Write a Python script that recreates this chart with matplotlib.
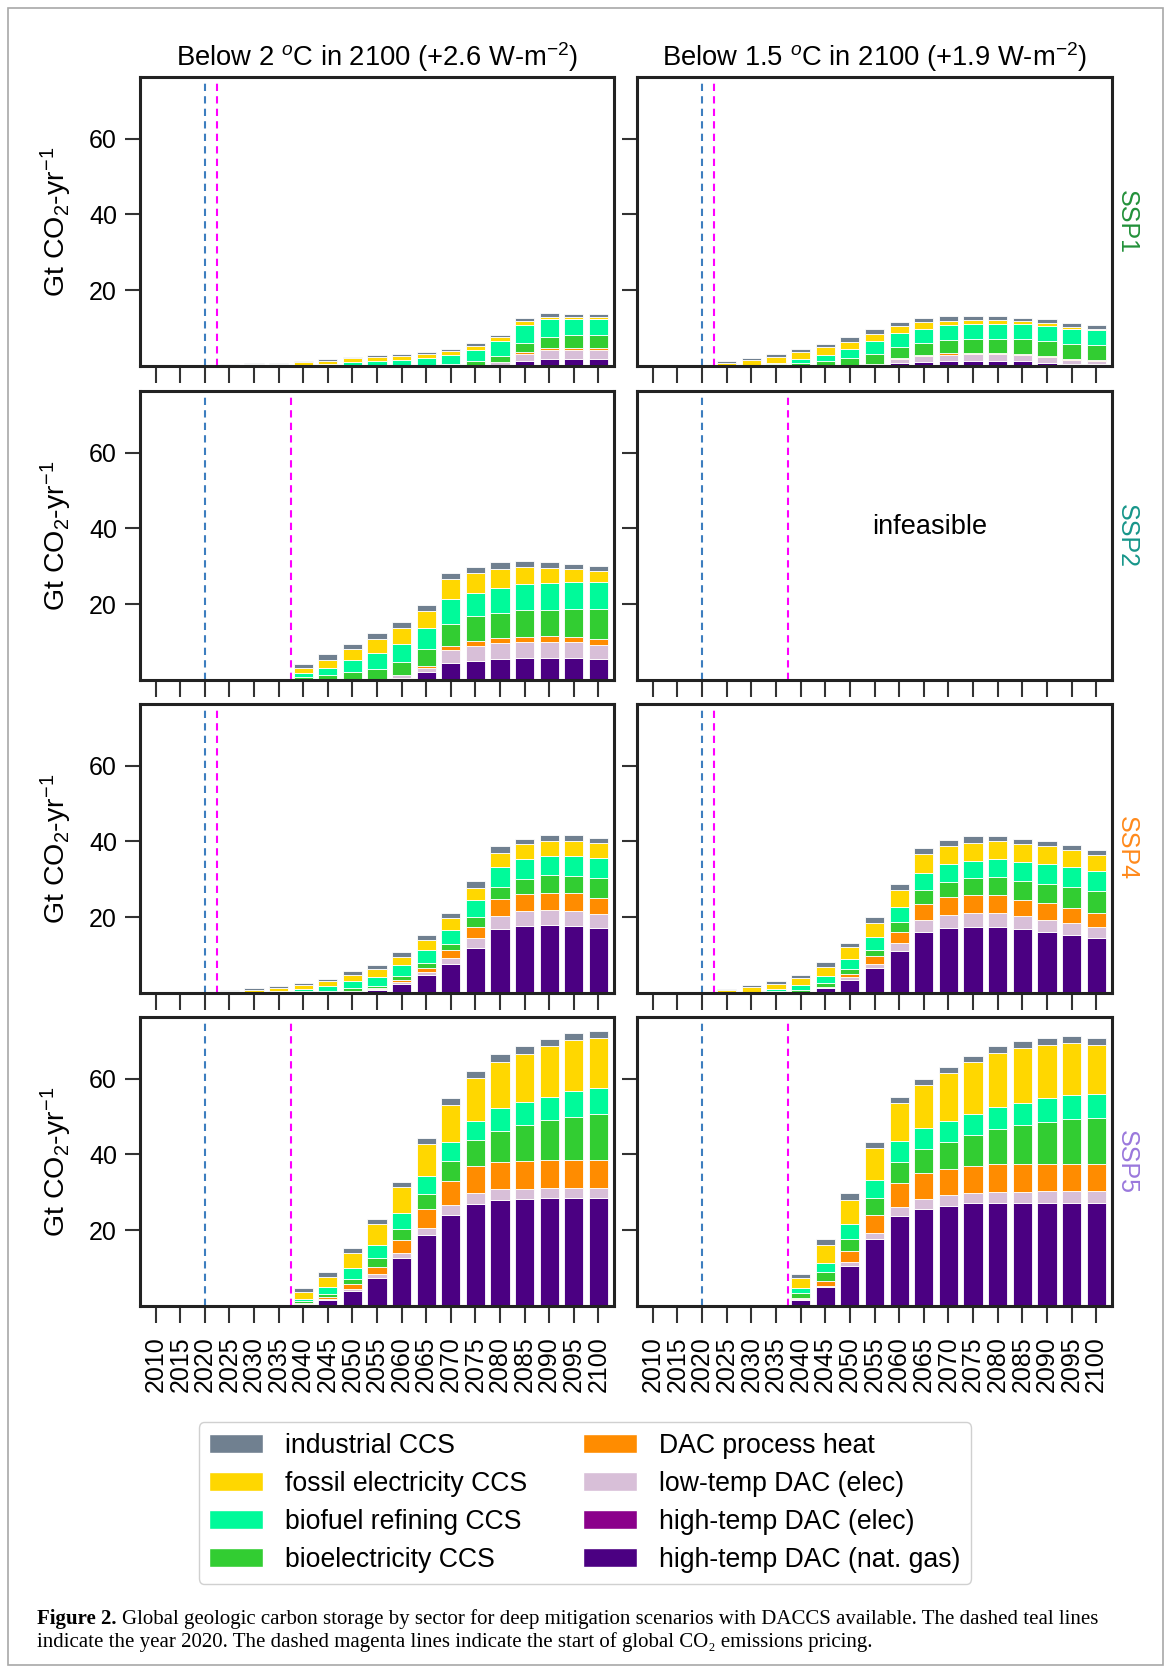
import numpy as np
import matplotlib.pyplot as plt
from matplotlib.patches import Rectangle, Patch

plt.rcParams['font.family'] = ['Liberation Sans', 'DejaVu Sans']
plt.rcParams['mathtext.fontset'] = 'custom'
plt.rcParams['mathtext.rm'] = 'Liberation Sans'
plt.rcParams['mathtext.it'] = 'Liberation Sans:italic'
plt.rcParams['mathtext.bf'] = 'Liberation Sans:bold'

years = [2010, 2015, 2020, 2025, 2030, 2035, 2040, 2045, 2050, 2055,
         2060, 2065, 2070, 2075, 2080, 2085, 2090, 2095, 2100]

sectors = ['high-temp DAC (nat. gas)', 'high-temp DAC (elec)', 'low-temp DAC (elec)',
           'DAC process heat', 'bioelectricity CCS', 'biofuel refining CCS',
           'fossil electricity CCS', 'industrial CCS']
colors = ['indigo', 'darkmagenta', 'thistle', 'darkorange', 'limegreen',
          'mediumspringgreen', 'gold', 'slategray']

# high-temp DAC (elec) is never visible in any scenario
ht_elec = [0, 0, 0, 0, 0, 0, 0, 0, 0, 0, 0, 0, 0, 0, 0, 0, 0, 0, 0]

# SSP1, below 2 C (2.6 W/m2)
s1_26_ng = [0, 0, 0, 0, 0, 0, 0, 0, 0, 0, 0, 0, 0, 0.1, 0.3, 1.3, 1.85, 1.9, 1.9]
s1_26_lt = [0, 0, 0, 0, 0, 0, 0, 0, 0, 0, 0, 0, 0.1, 0.1, 0.7, 2.0, 2.4, 2.4, 2.4]
s1_26_ph = [0, 0, 0, 0, 0, 0, 0, 0, 0, 0, 0, 0, 0, 0, 0.1, 0.4, 0.4, 0.45, 0.5]
s1_26_be = [0, 0, 0, 0, 0, 0, 0, 0, 0.1, 0.1, 0.1, 0.15, 0.3, 1.2, 1.5, 2.4, 3.1, 3.4, 3.5]
s1_26_bf = [0, 0, 0, 0, 0.1, 0.15, 0.3, 0.6, 1.0, 1.3, 1.6, 2.0, 2.5, 2.9, 4.0, 4.7, 4.6, 4.2, 4.0]
s1_26_fe = [0, 0, 0, 0.2, 0.4, 0.5, 0.7, 0.8, 0.9, 0.95, 1.0, 1.1, 1.1, 1.1, 1.0, 1.0, 0.7, 0.6, 0.6]
s1_26_ind = [0, 0, 0, 0.2, 0.2, 0.25, 0.3, 0.4, 0.5, 0.5, 0.5, 0.5, 0.5, 0.6, 0.7, 1.0, 0.9, 0.9, 0.9]

# SSP1, below 1.5 C (1.9 W/m2)
s1_19_ng = [0, 0, 0, 0, 0, 0, 0, 0, 0, 0.2, 0.9, 1.05, 1.4, 1.4, 1.4, 1.2, 0.9, 0.6, 0.5]
s1_19_lt = [0, 0, 0, 0, 0, 0, 0, 0, 0, 0.3, 1.0, 1.6, 1.6, 1.7, 1.8, 1.6, 1.5, 1.0, 0.8]
s1_19_ph = [0, 0, 0, 0, 0, 0, 0, 0, 0, 0.1, 0.3, 0.35, 0.35, 0.3, 0.3, 0.3, 0.3, 0.2, 0.2]
s1_19_be = [0, 0, 0, 0, 0, 0.5, 0.9, 1.2, 2.0, 2.5, 2.7, 3.2, 3.5, 3.8, 3.7, 3.9, 4.0, 4.1, 4.0]
s1_19_bf = [0, 0, 0, 0, 0.1, 0.4, 0.9, 1.8, 2.55, 3.5, 3.7, 3.7, 3.9, 3.8, 4.0, 4.1, 3.9, 3.9, 3.9]
s1_19_fe = [0, 0, 0, 0.9, 1.5, 1.6, 1.8, 1.9, 1.85, 1.8, 1.9, 1.6, 1.2, 1.1, 0.9, 0.8, 0.8, 0.6, 0.5]
s1_19_ind = [0, 0, 0, 0.5, 0.6, 0.7, 0.8, 1.0, 1.2, 1.4, 1.1, 1.2, 1.2, 1.1, 1.1, 0.9, 1.0, 1.0, 0.9]

# SSP2, below 2 C
s2_26_ng = [0, 0, 0, 0, 0, 0, 0, 0, 0, 0.1, 0.6, 2.0, 4.4, 5.1, 5.6, 5.75, 5.9, 5.7, 5.5]
s2_26_lt = [0, 0, 0, 0, 0, 0, 0, 0, 0, 0, 0.6, 1.3, 3.5, 4.0, 4.1, 4.2, 4.2, 4.25, 3.8]
s2_26_ph = [0, 0, 0, 0, 0, 0, 0, 0, 0, 0, 0, 0.4, 1.2, 1.2, 1.3, 1.3, 1.4, 1.4, 1.5]
s2_26_be = [0, 0, 0, 0, 0, 0, 0.9, 1.3, 2.1, 2.9, 3.5, 4.5, 5.75, 6.5, 6.7, 7.2, 7.1, 7.5, 8.0]
s2_26_bf = [0, 0, 0, 0, 0, 0, 0.9, 2.0, 3.2, 4.2, 4.9, 5.4, 6.5, 6.2, 6.5, 6.8, 7.1, 7.1, 7.2]
s2_26_fe = [0, 0, 0, 0, 0, 0, 1.3, 2.1, 2.9, 3.5, 4.0, 4.6, 5.2, 5.2, 5.2, 4.6, 4.0, 3.45, 2.9]
s2_26_ind = [0, 0, 0, 0, 0, 0, 1.0, 1.4, 1.4, 1.6, 1.6, 1.5, 1.8, 1.6, 1.7, 1.6, 1.4, 1.2, 1.2]

# SSP4, below 2 C
s4_26_ng = [0, 0, 0, 0, 0, 0, 0, 0.1, 0.3, 0.9, 2.5, 4.75, 7.75, 11.9, 16.8, 17.7, 18.0, 17.7, 17.1]
s4_26_lt = [0, 0, 0, 0, 0, 0, 0, 0, 0.1, 0.2, 0.45, 0.8, 1.5, 2.5, 3.4, 3.9, 3.9, 3.9, 3.7]
s4_26_ph = [0, 0, 0, 0, 0, 0, 0, 0, 0.1, 0.15, 0.5, 1.15, 2.0, 3.1, 4.5, 4.6, 4.6, 4.75, 4.4]
s4_26_be = [0, 0, 0, 0, 0, 0.15, 0.4, 0.5, 0.8, 0.7, 1.05, 1.3, 1.75, 2.5, 3.3, 4.0, 4.6, 4.6, 5.1]
s4_26_bf = [0, 0, 0, 0, 0.1, 0.3, 0.7, 1.2, 1.75, 2.4, 2.9, 3.35, 3.6, 4.65, 5.3, 5.3, 5.1, 5.3, 5.3]
s4_26_fe = [0, 0, 0, 0.5, 0.8, 0.9, 1.0, 1.3, 1.7, 2.0, 2.2, 2.6, 3.1, 3.2, 3.7, 3.8, 4.0, 4.0, 4.0]
s4_26_ind = [0, 0, 0, 0.3, 0.4, 0.5, 0.6, 0.7, 1.0, 1.05, 1.2, 1.3, 1.3, 1.6, 1.7, 1.3, 1.4, 1.4, 1.3]

# SSP4, below 1.5 C
s4_19_ng = [0, 0, 0, 0, 0, 0, 0.3, 1.3, 3.5, 6.6, 11.0, 16.1, 17.2, 17.5, 17.45, 16.9, 16.1, 15.4, 14.4]
s4_19_lt = [0, 0, 0, 0, 0, 0, 0, 0.2, 0.7, 1.15, 2.2, 3.3, 3.5, 3.6, 3.6, 3.35, 3.3, 3.1, 2.9]
s4_19_ph = [0, 0, 0, 0, 0, 0, 0, 0.15, 0.9, 1.9, 2.8, 4.2, 4.6, 4.7, 4.7, 4.4, 4.4, 4.0, 3.9]
s4_19_be = [0, 0, 0, 0, 0.1, 0.5, 0.5, 0.9, 1.2, 1.75, 2.7, 3.5, 4.0, 4.6, 4.8, 5.0, 5.1, 5.55, 5.7]
s4_19_bf = [0, 0, 0, 0, 0.2, 0.5, 1.3, 2.0, 2.65, 3.5, 4.0, 4.6, 4.7, 4.4, 4.7, 4.85, 5.2, 5.3, 5.4]
s4_19_fe = [0, 0, 0, 0.7, 1.2, 1.4, 1.75, 2.4, 3.2, 3.7, 4.4, 5.0, 4.85, 4.85, 4.9, 4.9, 4.7, 4.3, 4.1]
s4_19_ind = [0, 0, 0, 0.4, 0.6, 0.8, 1.0, 1.15, 1.15, 1.5, 1.7, 1.5, 1.6, 1.7, 1.3, 1.3, 1.4, 1.4, 1.4]

# SSP5, below 2 C
s5_26_ng = [0, 0, 0, 0, 0, 0, 0.45, 1.6, 4.0, 7.5, 12.6, 18.7, 24.0, 26.9, 28.0, 28.3, 28.4, 28.5, 28.5]
s5_26_lt = [0, 0, 0, 0, 0, 0, 0.1, 0.35, 0.45, 0.9, 1.3, 1.9, 2.6, 3.0, 2.8, 2.7, 2.8, 2.7, 2.7]
s5_26_ph = [0, 0, 0, 0, 0, 0, 0.35, 0.5, 1.3, 2.0, 3.4, 5.0, 6.3, 7.0, 7.3, 7.3, 7.4, 7.4, 7.4]
s5_26_be = [0, 0, 0, 0, 0, 0, 0.35, 0.6, 1.5, 2.2, 3.1, 4.1, 5.4, 6.8, 8.1, 9.4, 10.4, 11.3, 12.2]
s5_26_bf = [0, 0, 0, 0, 0, 0, 0.7, 2.0, 2.7, 3.5, 4.05, 4.5, 4.9, 5.2, 6.1, 6.15, 6.3, 6.8, 6.7]
s5_26_fe = [0, 0, 0, 0, 0.2, 0.2, 1.75, 2.6, 4.1, 5.45, 7.0, 8.5, 9.9, 11.2, 12.2, 12.7, 13.45, 13.4, 13.3]
s5_26_ind = [0, 0, 0, 0, 0, 0, 1.0, 1.3, 1.3, 1.5, 1.4, 1.75, 1.85, 1.85, 2.0, 2.0, 1.75, 1.85, 1.85]

# SSP5, below 1.5 C
s5_19_ng = [0, 0, 0, 0, 0, 0, 1.5, 4.9, 10.55, 17.6, 23.75, 25.5, 26.4, 27.1, 27.3, 27.3, 27.3, 27.3, 27.3]
s5_19_lt = [0, 0, 0, 0, 0, 0, 0.25, 0.5, 1.15, 1.75, 2.5, 2.8, 2.8, 2.8, 2.8, 2.8, 3.0, 3.0, 3.0]
s5_19_ph = [0, 0, 0, 0, 0, 0, 0.45, 1.3, 2.7, 4.6, 6.35, 6.9, 6.9, 7.0, 7.3, 7.3, 7.3, 7.3, 7.3]
s5_19_be = [0, 0, 0, 0, 0, 0, 1.3, 2.3, 3.4, 4.6, 5.5, 6.3, 7.2, 8.2, 9.2, 10.3, 11.0, 11.7, 12.0]
s5_19_bf = [0, 0, 0, 0, 0, 0, 1.15, 2.4, 3.9, 4.65, 5.4, 5.6, 5.6, 5.55, 5.9, 6.0, 6.2, 6.3, 6.5]
s5_19_fe = [0, 0, 0, 0, 0.2, 0.1, 2.7, 4.75, 6.4, 8.45, 10.0, 11.3, 12.5, 13.65, 14.3, 14.4, 14.2, 13.8, 12.9]
s5_19_ind = [0, 0, 0, 0, 0, 0, 1.2, 1.5, 1.75, 1.7, 1.75, 1.5, 1.75, 1.75, 1.75, 1.75, 1.85, 1.85, 1.7]

ssp_names = ['SSP1', 'SSP2', 'SSP4', 'SSP5']
ssp_colors = ['#23913a', '#17968a', '#ff8a1c', '#9a78dc']
pricing_start = [2025, 2040, 2025, 2040]     # first year with global CO2 pricing, per SSP
col_titles = ['Below 2 $^o$C in 2100 (+2.6 W-m$^{-2}$)',
              'Below 1.5 $^o$C in 2100 (+1.9 W-m$^{-2}$)']

panels = [
    [[s1_26_ng, ht_elec, s1_26_lt, s1_26_ph, s1_26_be, s1_26_bf, s1_26_fe, s1_26_ind],
     [s1_19_ng, ht_elec, s1_19_lt, s1_19_ph, s1_19_be, s1_19_bf, s1_19_fe, s1_19_ind]],
    [[s2_26_ng, ht_elec, s2_26_lt, s2_26_ph, s2_26_be, s2_26_bf, s2_26_fe, s2_26_ind],
     None],                                  # SSP2 1.5 C is infeasible
    [[s4_26_ng, ht_elec, s4_26_lt, s4_26_ph, s4_26_be, s4_26_bf, s4_26_fe, s4_26_ind],
     [s4_19_ng, ht_elec, s4_19_lt, s4_19_ph, s4_19_be, s4_19_bf, s4_19_fe, s4_19_ind]],
    [[s5_26_ng, ht_elec, s5_26_lt, s5_26_ph, s5_26_be, s5_26_bf, s5_26_fe, s5_26_ind],
     [s5_19_ng, ht_elec, s5_19_lt, s5_19_ph, s5_19_be, s5_19_bf, s5_19_fe, s5_19_ind]],
]

W, H = 1171, 1673
fig = plt.figure(figsize=(W / 100, H / 100), dpi=100)

col_left = [140, 637]      # pixel positions of the panel grid
col_width = [474, 475]
row_top = [77, 391, 704, 1017]
row_height = 289

x = np.arange(len(years))
idx_of = {y: i for i, y in enumerate(years)}

for r in range(4):
    for c in range(2):
        ax = fig.add_axes([col_left[c] / W, 1 - (row_top[r] + row_height) / H,
                           col_width[c] / W, row_height / H])
        layers = panels[r][c]
        if layers is not None:
            bottom = np.zeros(len(years))
            for vals, color in zip(layers, colors):
                ax.bar(x, vals, bottom=bottom, width=0.78, color=color,
                       edgecolor='white', linewidth=0.6)
                bottom += np.array(vals)
        else:
            ax.text(0.617, 0.53, 'infeasible', transform=ax.transAxes,
                    ha='center', va='center', fontsize=19.5)

        # dashed markers: year 2020 and start of emissions pricing
        ax.axvline(idx_of[2020], color='#3d7ebf', ls='--', lw=1.5, dashes=(3.5, 2.5))
        ax.axvline(idx_of[pricing_start[r]] - 0.5, color='#ff00ff', ls='--', lw=1.5,
                   dashes=(3.5, 2.5))

        ax.set_xlim(-0.64, 18.64)
        ax.set_ylim(0, 76.3)
        ax.set_xticks(x)
        ax.set_yticks([20, 40, 60])
        ax.tick_params(axis='x', direction='out', length=12, width=1.5, color='#333333',
                       labelsize=18, labelrotation=90, pad=10)
        ax.tick_params(axis='y', direction='out', length=10.5, width=1.5, color='#333333',
                       labelsize=18, pad=6)
        for sp in ax.spines.values():
            sp.set_linewidth(2.2)
            sp.set_color('#222222')

        if r == 3:
            ax.set_xticklabels([str(y) for y in years])
        else:
            ax.set_xticklabels([])
        if c == 0:
            ax.set_ylabel('Gt CO$_2$-yr$^{-1}$', fontsize=20.5, labelpad=11)
        else:
            ax.set_yticklabels([])
            ax.text(1.006, 0.5, ssp_names[r], transform=ax.transAxes, rotation=270,
                    ha='left', va='center', fontsize=18, color=ssp_colors[r])
        if r == 0:
            ax.set_title(col_titles[c], fontsize=19.7, pad=8)

# legend: reversed stack order fills two columns of four
handles = [Patch(facecolor=colors[i], edgecolor='white', label=sectors[i])
           for i in reversed(range(len(sectors)))]
fig.legend(handles=handles, loc='center', bbox_to_anchor=(585 / W, 1 - 1503 / H),
           ncol=2, fontsize=19.2, handlelength=2.0, handleheight=0.72,
           handletextpad=0.85, columnspacing=2.1, labelspacing=0.45,
           frameon=True, edgecolor='#d0d0d0', framealpha=1, fancybox=True)

# caption
cap_font = ['Liberation Serif', 'DejaVu Serif']
t = fig.text(37 / W, 1 - 1619 / H, 'Figure 2.', family=cap_font, fontweight='bold',
             fontsize=15, va='center')
fig.canvas.draw()
bb = t.get_window_extent()
fig.text((bb.x1 + 5) / W, 1 - 1619 / H,
         'Global geologic carbon storage by sector for deep mitigation scenarios with '
         'DACCS available. The dashed teal lines',
         family=cap_font, fontsize=15, va='center')
fig.text(37 / W, 1 - 1642 / H,
         'indicate the year 2020. The dashed magenta lines indicate the start of global '
         'CO\u2082 emissions pricing.',
         family=cap_font, fontsize=15, va='center')

# thin frame around the whole figure
fig.patches.append(Rectangle((8 / W, 8 / H), 1 - 16 / W, 1 - 16 / H,
                             transform=fig.transFigure, fill=False,
                             edgecolor='#a8a8a8', linewidth=1.2))

fig.savefig('out.png', dpi=100)
